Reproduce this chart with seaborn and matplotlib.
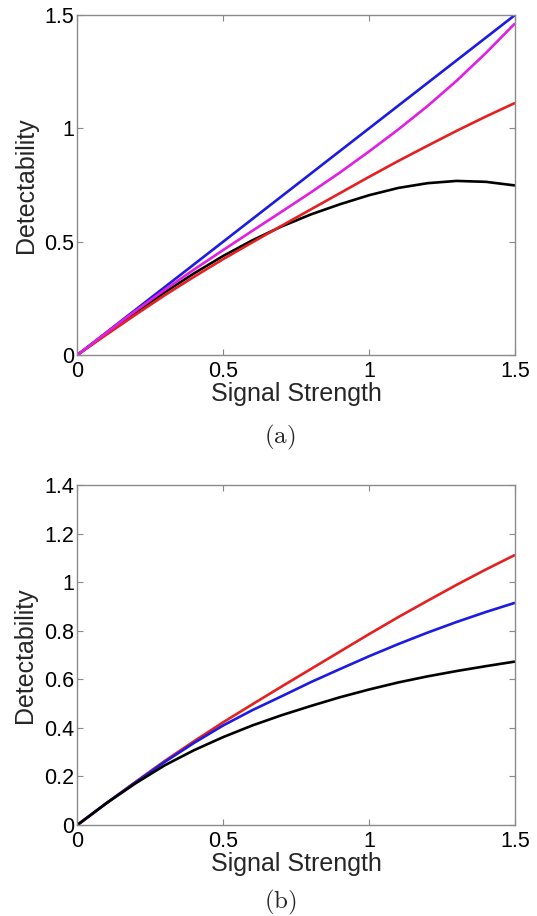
import numpy as np
import pandas as pd
import matplotlib
matplotlib.use("Agg")
import matplotlib.pyplot as plt
import seaborn as sns

# ---- data ----
signal = [0.0, 0.1, 0.2, 0.3, 0.4, 0.5, 0.6, 0.7, 0.8, 0.9, 1.0, 1.1, 1.2, 1.3, 1.4, 1.5]

# panel (a)
a_blue = [0.0, 0.1, 0.2, 0.3, 0.4, 0.5, 0.6, 0.7, 0.8, 0.9, 1.0, 1.1, 1.2, 1.3, 1.4, 1.5]
a_magenta = [0.0, 0.099, 0.195, 0.288, 0.377, 0.463, 0.548, 0.632, 0.717, 0.805,
             0.898, 0.995, 1.098, 1.21, 1.332, 1.463]
a_red = [0.0, 0.09, 0.178, 0.264, 0.345, 0.423, 0.497, 0.570, 0.642, 0.714,
         0.786, 0.856, 0.923, 0.989, 1.052, 1.112]
a_black = [0.0, 0.095, 0.188, 0.277, 0.36, 0.437, 0.506, 0.567, 0.62, 0.665,
           0.705, 0.737, 0.758, 0.768, 0.764, 0.748]

# panel (b)
b_red = [0.0, 0.09, 0.178, 0.264, 0.345, 0.423, 0.497, 0.570, 0.642, 0.714,
         0.786, 0.856, 0.923, 0.989, 1.052, 1.112]
b_blue = [0.0, 0.09, 0.176, 0.26, 0.338, 0.41, 0.473, 0.53, 0.588, 0.642,
          0.695, 0.745, 0.792, 0.836, 0.877, 0.915]
b_black = [0.0, 0.09, 0.172, 0.246, 0.308, 0.362, 0.41, 0.452, 0.49, 0.526,
           0.558, 0.587, 0.612, 0.634, 0.654, 0.673]

x_ticks = [0, 0.5, 1, 1.5]
x_ticklabels = ["0", "0.5", "1", "1.5"]
a_yticks = [0, 0.5, 1, 1.5]
a_yticklabels = ["0", "0.5", "1", "1.5"]
b_yticks = [0, 0.2, 0.4, 0.6, 0.8, 1.0, 1.2, 1.4]
b_yticklabels = ["0", "0.2", "0.4", "0.6", "0.8", "1", "1.2", "1.4"]

xlabel = "Signal Strength"
ylabel = "Detectability"
captions = ["(a)", "(b)"]

# ---- style ----
sns.set_theme(style="white")
plt.rcParams["font.family"] = ["Liberation Sans", "DejaVu Sans"]
plt.rcParams["mathtext.fontset"] = "cm"

BLUE = "#1c1ce0"
MAGENTA = "#e020e0"
RED = "#e52020"
BLACK = "#000000"
LW = 1.9

W, H = 537, 916
fig = plt.figure(figsize=(W / 100, H / 100), dpi=100)
left = 77.3 / W
width = (515 - 77.3) / W
height = 340 / H
ax_a = fig.add_axes([left, 1 - 355 / H, width, height])
ax_b = fig.add_axes([left, 1 - 825 / H, width, height])

def draw(ax, series):
    for ys, col in series:
        df = pd.DataFrame({"x": signal, "y": ys})
        sns.lineplot(data=df, x="x", y="y", ax=ax, color=col, lw=LW,
                     solid_capstyle="butt", legend=False)

draw(ax_a, [(a_black, BLACK), (a_blue, BLUE), (a_red, RED), (a_magenta, MAGENTA)])
draw(ax_b, [(b_red, RED), (b_blue, BLUE), (b_black, BLACK)])

for ax, yt, ytl, ylim, cap, capy in [
    (ax_a, a_yticks, a_yticklabels, (0, 1.5), captions[0], 437),
    (ax_b, b_yticks, b_yticklabels, (0, 1.4), captions[1], 902),
]:
    ax.set_xlim(0, 1.5)
    ax.set_ylim(*ylim)
    ax.set_xticks(x_ticks)
    ax.set_xticklabels(x_ticklabels)
    ax.set_yticks(yt)
    ax.set_yticklabels(ytl)
    ax.tick_params(direction="in", length=4, width=0.8, color="#888888",
                   labelsize=15.5, labelcolor="black", top=True, right=True,
                   bottom=True, left=True, pad=2)
    ax.tick_params(axis="x", pad=4)
    for s in ax.spines.values():
        s.set_visible(True)
        s.set_color("#8a8a8a")
        s.set_linewidth(1.0)
    ax.set_xlabel(xlabel, fontsize=18, labelpad=0)
    ax.set_ylabel(ylabel, fontsize=18, labelpad=5)
    ax.grid(False)
    fig.text(280 / W, 1 - capy / H, r"$(\mathrm{%s})$" % cap[1], fontsize=18,
             ha="center", va="center")

fig.savefig("out.png", dpi=100)
